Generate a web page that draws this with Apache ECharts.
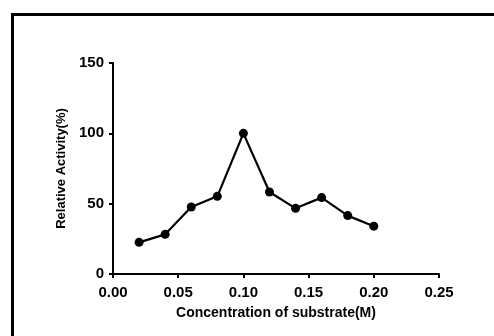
<!DOCTYPE html>
<html><head><meta charset="utf-8">
<script src="https://cdn.jsdelivr.net/npm/echarts@6/dist/echarts.min.js"></script>
<style>html,body{margin:0;padding:0;background:#fff}#c{width:494px;height:336px}</style>
</head><body><div id="c"></div>
<script>
var concentration = [0.02, 0.04, 0.06, 0.08, 0.10, 0.12, 0.14, 0.16, 0.18, 0.20];
var activity = [22.5, 28.2, 47.6, 55.2, 100, 58.3, 46.7, 54.3, 41.5, 34];
var xTicks = [0, 0.05, 0.10, 0.15, 0.20, 0.25];
var yTicks = [0, 50, 100, 150];

var chart = echarts.init(document.getElementById('c'), null, {renderer:'canvas'});
var font = '"Liberation Sans", Arial, sans-serif';
chart.setOption({
  animation: false,
  backgroundColor: '#fff',
  graphic: [{
    type: 'rect', left: 10, top: 12, z: 100,
    shape: {x: 0, y: 0, width: 600, height: 400},
    style: {fill: 'none', stroke: '#000', lineWidth: 3}
  }],
  grid: {left: 113, right: 55, top: 63, bottom: 62},
  xAxis: {
    type: 'value', min: 0, max: 0.25, interval: 0.05,
    name: 'Concentration of substrate(M)', nameLocation: 'middle', nameGap: 32,
    nameTextStyle: {fontFamily: font, fontWeight: 'bold', fontSize: 14, color: '#000'},
    axisLine: {lineStyle: {color: '#000', width: 2}},
    axisTick: {show: true, length: 4, lineStyle: {color: '#000', width: 2}},
    axisLabel: {fontFamily: font, fontWeight: 'bold', fontSize: 15, color: '#000', margin: 11,
      formatter: function(v){ return v.toFixed(2); }},
    splitLine: {show: false}
  },
  yAxis: {
    type: 'value', min: 0, max: 150, interval: 50,
    name: 'Relative Activity(%)', nameLocation: 'middle', nameGap: 44, nameRotate: 90,
    nameTextStyle: {fontFamily: font, fontWeight: 'bold', fontSize: 13, color: '#000'},
    axisLine: {show: true, lineStyle: {color: '#000', width: 2}},
    axisTick: {show: true, length: 4, lineStyle: {color: '#000', width: 2}},
    axisLabel: {fontFamily: font, fontWeight: 'bold', fontSize: 15, color: '#000', margin: 9},
    splitLine: {show: false}
  },
  series: [{
    type: 'line',
    data: concentration.map(function(c, i){ return [c, activity[i]]; }),
    symbol: 'circle', symbolSize: 9,
    lineStyle: {color: '#000', width: 2.2},
    itemStyle: {color: '#000'}
  }]
});
</script></body></html>
